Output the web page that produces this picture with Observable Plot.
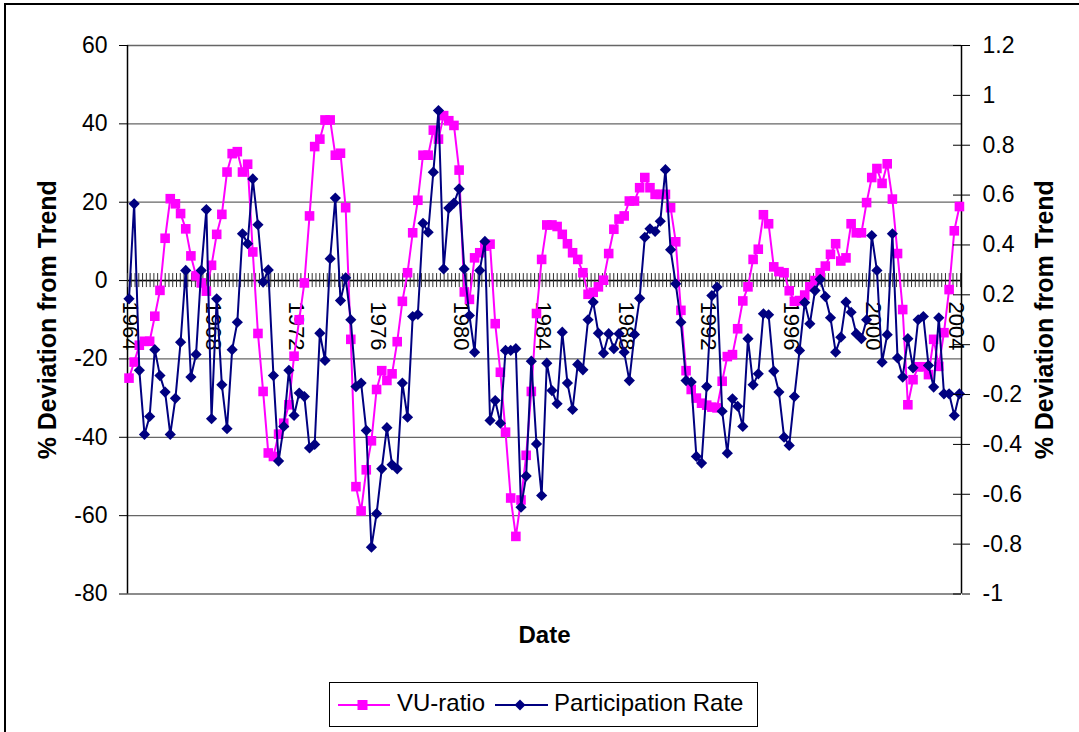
<!DOCTYPE html>
<html>
<head>
<meta charset="utf-8">
<script src="https://cdn.jsdelivr.net/npm/d3@7"></script>
<script src="https://cdn.jsdelivr.net/npm/@observablehq/plot@0.6"></script>
<style>
html, body { margin: 0; padding: 0; background: #fff; overflow: hidden; }
#wrap { position: relative; width: 1079px; height: 732px; overflow: hidden; font-family: "Liberation Sans", Arial, sans-serif; }
#chart { position: absolute; left: 0; top: 0; }
#border { position: absolute; left: 4px; top: 3px; width: 1300px; height: 1000px; border: 2px solid #000; pointer-events: none; }
#legend { position: absolute; left: 329px; top: 682px; }
</style>
</head>
<body>
<div id="wrap">
  <div id="chart"></div>
  <div id="legend"></div>
  <div id="border"></div>
</div>
<script>
// ---- data (quarterly, starting 1964 Q1) ----
const startYear = 1964;
const seriesNames = ["VU-ratio", "Participation Rate"];
const vuRatio = [
  -24.9, -20.8, -16.5, -15.5, -15.5, -9.1, -2.5, 10.8, 20.9, 19.6,
  17.1, 13.2, 6.3, 1.2, -0.6, -2.7, 3.9, 11.8, 16.9, 27.7,
  32.4, 32.9, 27.7, 29.7, 7.3, -13.5, -28.3, -44.0, -44.9, -39.2,
  -36.4, -31.7, -19.3, -10.0, -0.6, 16.5, 34.2, 36.1, 41.0, 41.0,
  32.0, 32.5, 18.6, -15.0, -52.6, -58.8, -48.3, -40.9, -27.8, -23.0,
  -25.5, -23.8, -15.6, -5.3, 2.0, 12.2, 20.5, 32.0, 32.0, 38.4,
  36.1, 42.1, 40.8, 39.6, 28.2, -2.9, -4.8, 5.8, 7.1, 8.8,
  9.3, -11.0, -23.4, -38.7, -55.5, -65.3, -56.0, -44.6, -28.3, -8.4,
  5.4, 14.2, 14.2, 13.8, 11.8, 9.4, 7.1, 5.4, 2.0, -3.5,
  -3.0, -1.6, 0.1, 6.9, 13.1, 15.7, 16.5, 20.3, 20.3, 23.7,
  26.3, 23.7, 22.0, 22.0, 22.0, 18.6, 9.9, -7.6, -23.0, -27.8,
  -30.0, -31.3, -31.8, -32.3, -32.5, -25.7, -19.4, -18.9, -12.3, -5.2,
  -1.6, 5.4, 8.0, 16.8, 14.5, 3.5, 2.3, 2.0, -2.6, -5.3,
  -5.1, -3.7, -1.6, 0.0, 2.0, 3.7, 6.7, 9.4, 5.0, 5.8,
  14.5, 12.2, 12.2, 19.9, 26.3, 28.6, 24.8, 29.8, 20.8, 6.9,
  -7.4, -31.7, -25.3, -22.0, -22.0, -24.0, -15.0, -21.9, -13.3, -2.3,
  12.7, 18.9
];
const participation = [
  0.184, 0.565, -0.103, -0.360, -0.288, -0.020, -0.124, -0.190, -0.360, -0.215,
  0.010, 0.298, -0.130, -0.039, 0.298, 0.542, -0.297, 0.184, -0.161, -0.337,
  -0.020, 0.090, 0.445, 0.405, 0.665, 0.481, 0.251, 0.300, -0.124, -0.467,
  -0.328, -0.103, -0.284, -0.194, -0.208, -0.414, -0.400, 0.046, -0.063, 0.345,
  0.588, 0.177, 0.268, 0.100, -0.168, -0.154, -0.344, -0.812, -0.678, -0.498,
  -0.333, -0.482, -0.498, -0.154, -0.291, 0.113, 0.121, 0.487, 0.451, 0.692,
  0.939, 0.304, 0.548, 0.568, 0.625, 0.304, 0.117, -0.030, 0.298, 0.414,
  -0.304, -0.224, -0.315, -0.023, -0.023, -0.016, -0.652, -0.527, -0.066, -0.398,
  -0.605, -0.074, -0.184, -0.237, 0.050, -0.154, -0.260, -0.079, -0.101, 0.100,
  0.171, 0.046, -0.034, 0.044, -0.016, 0.044, -0.030, -0.144, 0.041, 0.186,
  0.431, 0.465, 0.454, 0.495, 0.702, 0.381, 0.244, 0.090, -0.144, -0.150,
  -0.448, -0.475, -0.168, 0.197, 0.231, -0.267, -0.435, -0.217, -0.247, -0.328,
  0.024, -0.161, -0.117, 0.124, 0.120, -0.106, -0.190, -0.371, -0.404, -0.208,
  -0.023, 0.169, 0.084, 0.217, 0.262, 0.193, 0.108, -0.030, 0.030, 0.171,
  0.130, 0.044, 0.024, 0.100, 0.438, 0.298, -0.070, 0.040, 0.445, -0.053,
  -0.130, 0.024, -0.093, 0.100, 0.113, -0.083, -0.170, 0.108, -0.197, -0.197,
  -0.284, -0.197
];
const yearLabels = [1964, 1968, 1972, 1976, 1980, 1984, 1988, 1992, 1996, 2000, 2004];
const leftTicks = [-80, -60, -40, -20, 0, 20, 40, 60];
const rightTicks = [-1, -0.8, -0.6, -0.4, -0.2, 0, 0.2, 0.4, 0.6, 0.8, 1, 1.2];
const axisTitle = "% Deviation from Trend";
const xTitle = "Date";

// ---- scales / helpers ----
const leftDomain = [-80, 60];
const rightDomain = [-1, 1.2];
const toLeft = r => leftDomain[0] + (r - rightDomain[0]) * (leftDomain[1] - leftDomain[0]) / (rightDomain[1] - rightDomain[0]);
const fromLeft = v => rightDomain[0] + (v - leftDomain[0]) * (rightDomain[1] - rightDomain[0]) / (leftDomain[1] - leftDomain[0]);
const xDomain = [1963.927, 2004.35];
const minorTicks = d3.range(xDomain[0], xDomain[1] + 1e-9, 0.1827);

const vuData = vuRatio.map((v, i) => ({t: startYear + i / 4, v}));
const prData = participation.map((r, i) => ({t: startYear + i / 4, v: toLeft(r)}));

const PINK = "#FF00FF";
const NAVY = "#000080";
const squareSym = {draw(ctx, size) { const s = Math.sqrt(size / Math.PI); ctx.rect(-s, -s, 2 * s, 2 * s); }};
const diamondSym = {draw(ctx, size) { const h = Math.sqrt(size / Math.PI); ctx.moveTo(0, -h); ctx.lineTo(h, 0); ctx.lineTo(0, h); ctx.lineTo(-h, 0); ctx.closePath(); }};
const fmt = d => String(Math.round(d * 10) / 10);

const chart = Plot.plot({
  width: 1079,
  height: 660,
  marginLeft: 127,
  marginRight: 118,
  marginTop: 45,
  marginBottom: 66.5,
  style: {fontFamily: "'Liberation Sans', Arial, sans-serif", fontSize: "23px", color: "#000", background: "transparent", overflow: "visible"},
  x: {domain: xDomain, axis: null},
  y: {domain: leftDomain, axis: null},
  marks: [
    Plot.ruleY(leftTicks, {stroke: "#666", strokeWidth: 1.3}),
    Plot.ruleX([xDomain[0], xDomain[1]], {stroke: "#000", strokeWidth: 1.5}),
    Plot.ruleY([0], {stroke: "#000", strokeWidth: 1.5}),
    Plot.ruleX(minorTicks, {y1: 0, y2: 0, insetTop: -7, insetBottom: -7, stroke: "#333", strokeWidth: 1}),
    Plot.text(yearLabels, {x: d => d, y: 0, text: d => String(d), rotate: 90, textAnchor: "start", lineAnchor: "middle", dy: 21, dx: 1.5, fontSize: 22, fill: "#000"}),
    Plot.line(vuData, {x: "t", y: "v", stroke: PINK, strokeWidth: 2}),
    Plot.dot(vuData, {x: "t", y: "v", symbol: squareSym, r: 4.8, fill: PINK, stroke: "none"}),
    Plot.line(prData, {x: "t", y: "v", stroke: NAVY, strokeWidth: 2}),
    Plot.dot(prData, {x: "t", y: "v", symbol: diamondSym, r: 5.6, fill: NAVY, stroke: "none"}),
    Plot.axisY(leftTicks, {anchor: "left", tickSize: 8, tickPadding: 12, tickFormat: d => String(d), fontSize: 23, label: null}),
    Plot.axisY(rightTicks.map(toLeft), {anchor: "right", tickSize: 8, tickPadding: 13, tickFormat: d => fmt(fromLeft(d)), fontSize: 23, label: null}),
    Plot.ruleY(rightTicks.map(toLeft), {x1: xDomain[1], x2: xDomain[1], insetLeft: -8, insetRight: 0, stroke: "#000"}),
    Plot.text([axisTitle], {frameAnchor: "left", rotate: -90, dx: -80, fontSize: 25, fontWeight: "bold", textAnchor: "middle", lineAnchor: "middle", fill: "#000"}),
    Plot.text([axisTitle], {frameAnchor: "right", rotate: -90, dx: 83, fontSize: 25, fontWeight: "bold", textAnchor: "middle", lineAnchor: "middle", fill: "#000"}),
    Plot.text([xTitle], {frameAnchor: "bottom", dy: 41.5, fontSize: 24, fontWeight: "bold", lineAnchor: "middle", fill: "#000"})
  ]
});
document.getElementById("chart").appendChild(chart);

// ---- legend ----
const ns = "http://www.w3.org/2000/svg";
const lg = document.createElementNS(ns, "svg");
lg.setAttribute("width", 430);
lg.setAttribute("height", 46);
lg.innerHTML = `
  <rect x="0.5" y="0.5" width="428" height="44" fill="#fff" stroke="#000" stroke-width="1"/>
  <line x1="9" y1="23" x2="61" y2="23" stroke="${PINK}" stroke-width="2"/>
  <rect x="28.5" y="18" width="10" height="10" fill="${PINK}"/>
  <text x="68" y="29" font-family="'Liberation Sans', Arial, sans-serif" font-size="24" fill="#000">${seriesNames[0]}</text>
  <line x1="166" y1="23" x2="219" y2="23" stroke="${NAVY}" stroke-width="2"/>
  <path d="M191,17.5 L196.5,23 L191,28.5 L185.5,23 Z" fill="${NAVY}"/>
  <text x="225" y="29" font-family="'Liberation Sans', Arial, sans-serif" font-size="24" fill="#000">${seriesNames[1]}</text>`;
document.getElementById("legend").appendChild(lg);
</script>
</body>
</html>
